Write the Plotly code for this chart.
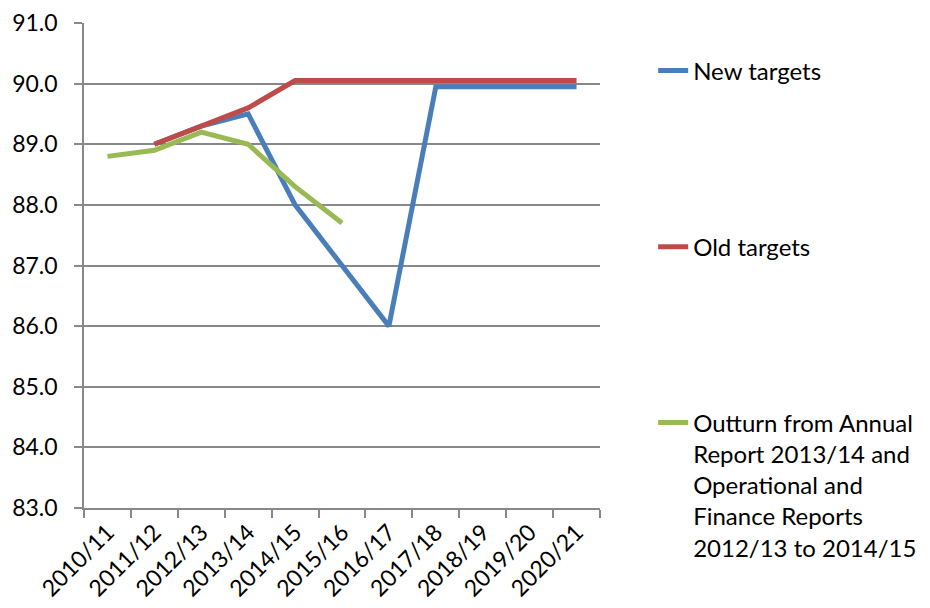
import plotly.graph_objects as go

years = ["2010/11", "2011/12", "2012/13", "2013/14", "2014/15", "2015/16",
         "2016/17", "2017/18", "2018/19", "2019/20", "2020/21"]
new_targets = [None, 89.0, 89.3, 89.5, 88.0, 87.0, 86.0, 89.95, 89.95, 89.95, 89.95]
old_targets = [None, 89.0, 89.3, 89.6, 90.05, 90.05, 90.05, 90.05, 90.05, 90.05, 90.05]
outturn = [88.8, 88.9, 89.2, 89.0, 88.3, 87.7, None, None, None, None, None]

names = ["New targets", "Old targets",
         "Outturn from Annual<br>Report 2013/14 and<br>Operational and<br>Finance Reports<br>2012/13 to 2014/15"]
colors = ["#4A7EBB", "#BE4B48", "#98B954"]

fig = go.Figure()
for i, (vals, nm, col) in enumerate(zip([new_targets, old_targets, outturn], names, colors)):
    fig.add_trace(go.Scatter(
        x=years, y=vals, name=nm, mode="lines",
        line=dict(color=col, width=5),
        legend=["legend", "legend2", "legend3"][i],
        showlegend=True,
    ))

grid = "#888888"
leg_common = dict(x=1.103, xanchor="left", bgcolor="rgba(0,0,0,0)",
                  font=dict(size=24), itemwidth=30)
fig.update_layout(
    width=930, height=608,
    margin=dict(l=76, r=338, t=15, b=108, autoexpand=False),
    plot_bgcolor="white", paper_bgcolor="white",
    showlegend=True,
    font=dict(family="Lato", size=22, color="black"),
    xaxis=dict(type="category", tickson="boundaries", showgrid=False,
               ticks="outside", ticklen=8, tickcolor=grid, tickwidth=1.5,
               showline=True, linecolor=grid, linewidth=1.5, tickangle=-45,
               range=[-0.5, 10.5], tickfont=dict(size=23), automargin=False),
    yaxis=dict(range=[83, 91], dtick=1, tick0=83, tickformat=".1f", showgrid=True,
               gridcolor=grid, gridwidth=1.5, ticks="outside", ticklen=8,
               tickcolor=grid, tickwidth=1.5, showline=True, linecolor=grid,
               linewidth=1.5, zeroline=False, tickfont=dict(size=23),
               ticklabelstandoff=12, automargin=False),
    legend=dict(y=0.901, yanchor="middle", **leg_common),
    legend2=dict(y=0.538, yanchor="middle", **leg_common),
    legend3=dict(y=0.222, yanchor="top", valign="top", **leg_common),
)

fig.write_html("out.html")
